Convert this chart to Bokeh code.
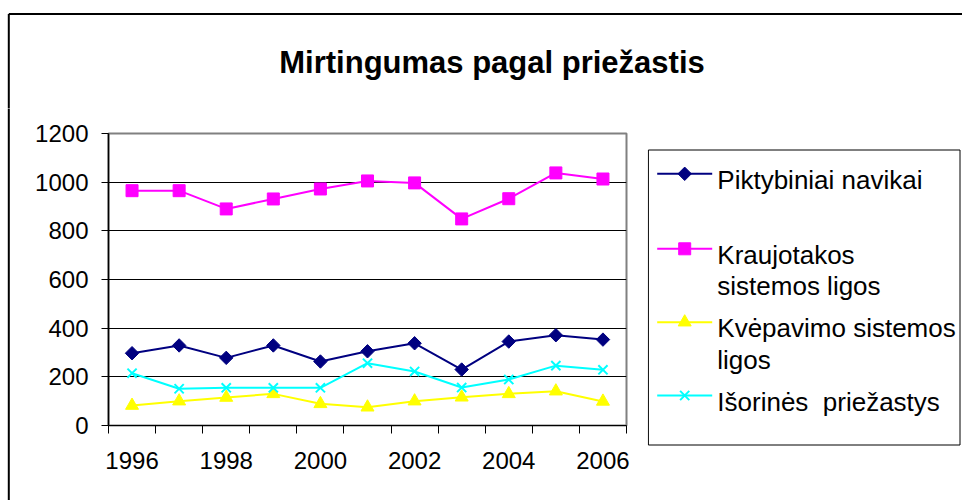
from bokeh.plotting import figure
from bokeh.layouts import column, row
from bokeh.models import Range1d, FixedTicker
from bokeh.core.properties import value
from bokeh.embed import file_html
from bokeh.resources import INLINE
import math

# ---- data ----
years = [1996, 1997, 1998, 1999, 2000, 2001, 2002, 2003, 2004, 2005, 2006]
piktybiniai = [297, 329, 278, 329, 263, 305, 338, 230, 345, 371, 353]
kraujotakos = [965, 965, 890, 931, 972, 1005, 997, 849, 932, 1038, 1013]
kvepavimo = [82, 100, 115, 130, 89, 75, 100, 116, 130, 141, 99]
isorines = [215, 151, 155, 155, 155, 256, 222, 156, 189, 246, 229]
series_first_lines = ["Piktybiniai navikai", "Kraujotakos", "Kvėpavimo sistemos", "Išorinės \u00a0priežastys"]
series_second_lines = ["", "sistemos ligos", "ligos", ""]
y_ticks = [0, 200, 400, 600, 800, 1000, 1200]
x_tick_labels = ["1996", "1998", "2000", "2002", "2004", "2006"]
title_text = "Mirtingumas pagal priežastis"

FONT = "Liberation Sans"
W, H = 962, 500
TOP_H = 108          # height of the title strip
BAR_W = 20           # strip carrying the left border
MAIN_W = 647 - BAR_W
LEG_W = W - BAR_W - MAIN_W
FRAME_L = 108 - BAR_W

styles = [
    ("#000080", "square", 9.5, math.pi / 4),
    ("#FF00FF", "square", 12, 0),
    ("#FFFF00", "triangle", 13, 0),
    ("#00FFFF", "x", 13, 0),
]
series = [piktybiniai, kraujotakos, kvepavimo, isorines]


def blank(width, height, xr, yr):
    f = figure(width=width, height=height, output_backend="svg", toolbar_location=None,
               x_range=Range1d(*xr), y_range=Range1d(*yr),
               x_axis_type=None, y_axis_type=None, min_border=0, title=None,
               frame_align=False)
    f.outline_line_color = None
    f.background_fill_color = "white"
    f.border_fill_color = "white"
    return f


def add_marker(f, xs, ys, col, mk, sz, ang):
    if mk == "x":
        return f.scatter(xs, ys, marker=mk, size=sz, line_color=col, line_width=2)
    return f.scatter(xs, ys, marker=mk, size=sz, angle=ang,
                     fill_color=col, line_color=col, line_width=1)


# ---- title strip (page coordinates) ----
top = blank(W, TOP_H, (0, W), (TOP_H, 0))
top.segment(x0=[8.3, 8.3], y0=[13.4, 13.4], x1=[W + 5, 8.3], y1=[13.4, TOP_H + 2],
            line_color="black", line_width=2)
top.text(x=[491.5], y=[61.7], text=[title_text], text_font=value(FONT),
         text_font_size=value("31px"), text_font_style="bold", text_color="black",
         text_align="center", text_baseline="alphabetic")

# ---- left border strip ----
bar = blank(BAR_W, H - TOP_H, (0, BAR_W), (H, TOP_H))
bar.segment(x0=[8.3], y0=[TOP_H - 2], x1=[8.3], y1=[H + 2], line_color="black", line_width=2)

# ---- main chart ----
p = figure(width=MAIN_W, height=H - TOP_H, output_backend="svg", toolbar_location=None,
           title=None, frame_align=False,
           x_range=Range1d(years[0] - 0.5, years[-1] + 0.5),
           y_range=Range1d(y_ticks[0], y_ticks[-1]),
           min_border_left=FRAME_L, min_border_right=MAIN_W - FRAME_L - 518,
           min_border_top=25, min_border_bottom=H - TOP_H - 25 - 292)
p.background_fill_color = "white"
p.border_fill_color = "white"
p.outline_line_color = "#808080"
p.outline_line_width = 2

p.xaxis.ticker = FixedTicker(ticks=[int(t) for t in x_tick_labels],
                             minor_ticks=[y - 0.5 for y in years] + [years[-1] + 0.5])
p.xaxis.major_label_overrides = {int(t): t for t in x_tick_labels}
p.xaxis.major_tick_out = 0
p.xaxis.major_tick_in = 0
p.xaxis.minor_tick_out = 8
p.xaxis.minor_tick_in = 0
p.xaxis.minor_tick_line_color = "black"
p.xaxis.axis_line_color = "black"
p.xaxis.major_label_standoff = 18
p.xaxis.major_label_text_font = FONT
p.xaxis.major_label_text_font_size = "24px"
p.xaxis.major_label_text_color = "black"

p.yaxis.ticker = FixedTicker(ticks=y_ticks, minor_ticks=[])
p.yaxis.major_tick_out = 7
p.yaxis.major_tick_in = 0
p.yaxis.major_tick_line_color = "black"
p.yaxis.axis_line_color = "black"
p.yaxis.axis_line_width = 1.5
p.yaxis.major_label_standoff = 13
p.yaxis.major_label_text_font = FONT
p.yaxis.major_label_text_font_size = "24px"
p.yaxis.major_label_text_color = "black"

p.xgrid.visible = False
p.ygrid.ticker = FixedTicker(ticks=y_ticks, minor_ticks=[])
p.ygrid.grid_line_color = "black"
p.ygrid.grid_line_width = 1

for vals, (col, mk, sz, ang) in zip(series, styles):
    p.line(years, vals, line_color=col, line_width=2)
    add_marker(p, years, vals, col, mk, sz, ang)

# ---- legend (page coordinates) ----
leg = blank(LEG_W, H - TOP_H, (W - LEG_W, W), (H, TOP_H))
box_l, box_r, box_t, box_b = 647.9, 959.5, 149.5, 444.5
leg.segment(x0=[box_l, box_r, box_l, box_l], y0=[box_t, box_t, box_t, box_b],
            x1=[box_l, box_r, box_r, box_r], y1=[box_b, box_b, box_t, box_b],
            line_color="black", line_width=1)
row_y = [173.3, 248.3, 321.7, 395.0]
g0, g1 = 656.7, 711.7
text_x = 716.8
for i, (col, mk, sz, ang) in enumerate(styles):
    gy = row_y[i]
    leg.segment(x0=[g0], y0=[gy], x1=[g1], y1=[gy], line_color=col, line_width=2)
    add_marker(leg, [(g0 + g1) / 2], [gy], col, mk, sz, ang)
    leg.text(x=[text_x], y=[gy + 6], text=[series_first_lines[i]], text_font=value(FONT),
             text_font_size=value("26px"), text_color="black",
             text_align="left", text_baseline="alphabetic")
    if series_second_lines[i]:
        leg.text(x=[text_x], y=[gy + 37.5], text=[series_second_lines[i]], text_font=value(FONT),
                 text_font_size=value("26px"), text_color="black",
                 text_align="left", text_baseline="alphabetic")

layout = column(top, row(bar, p, leg, spacing=0), spacing=0)
open("out.html", "w").write(file_html(layout, INLINE))
